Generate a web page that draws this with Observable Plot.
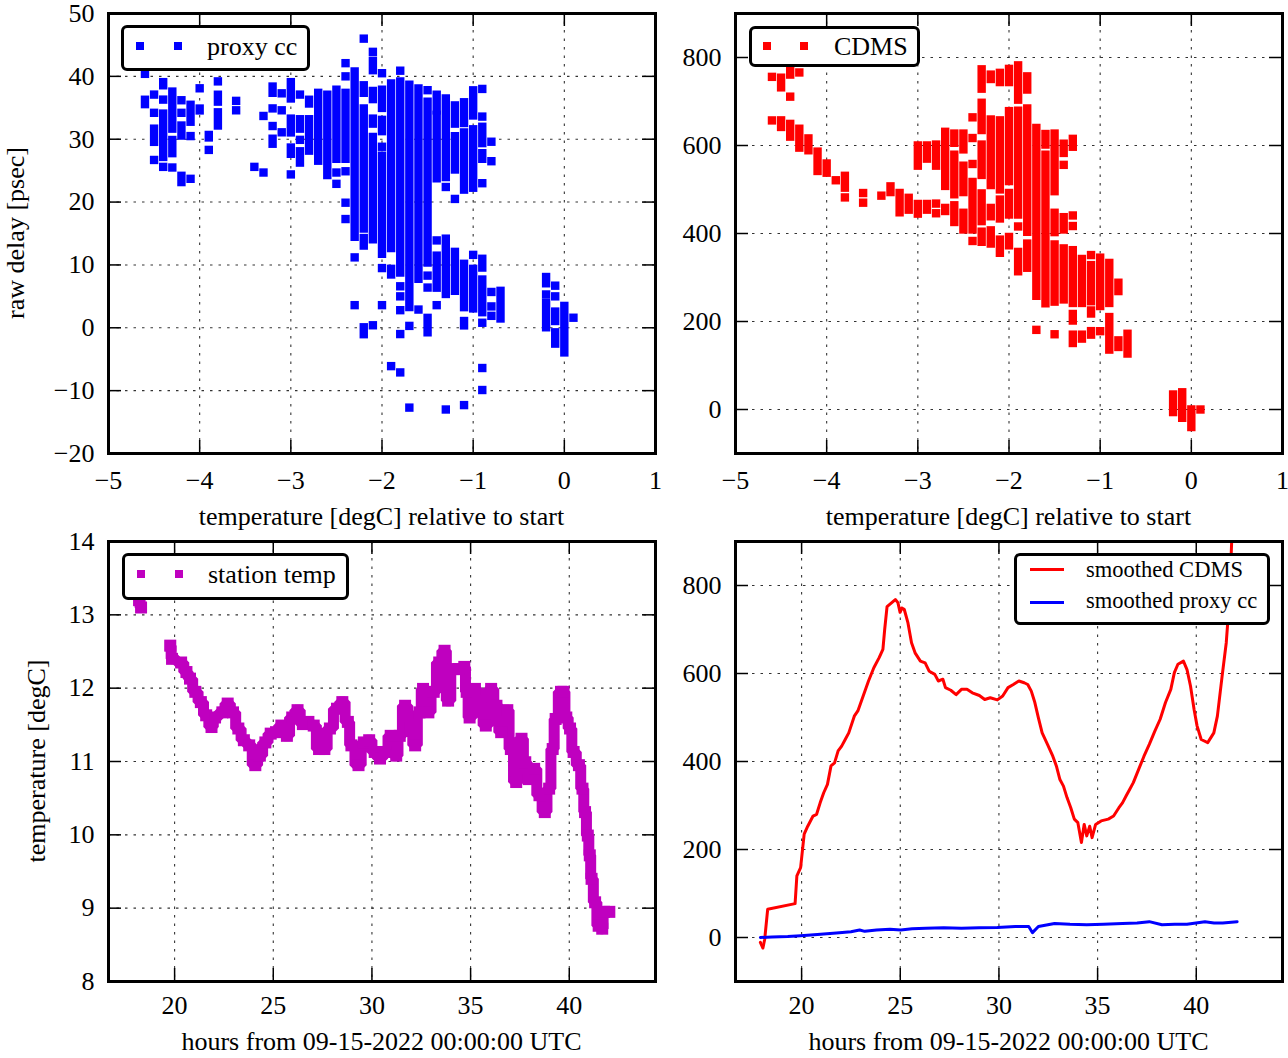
<!DOCTYPE html>
<html><head><meta charset="utf-8">
<script src="https://cdn.jsdelivr.net/npm/d3@7"></script>
<script src="https://cdn.jsdelivr.net/npm/@observablehq/plot@0.6"></script>
<style>
body{margin:0;background:#fff;}
#page{position:relative;width:1288px;height:1058px;overflow:hidden;font-family:"Liberation Serif","Times New Roman",serif;color:#000;background:#fff;}
.panel{position:absolute;}
.panel svg{overflow:visible;background:transparent;}
.legend{position:absolute;background:#fff;border:3px solid #000;border-radius:6px;box-sizing:border-box;}
.mk{position:absolute;width:8px;height:8px;}
.ln{position:absolute;height:3px;}
.lab{position:absolute;font-size:26px;white-space:nowrap;line-height:26px;}
</style></head>
<body><div id="page"></div>
<script>
// ---------- tick values ----------
const tempTicks = [-5, -4, -3, -2, -1, 0, 1];
const delayTicks = [-20, -10, 0, 10, 20, 30, 40, 50];
const cdmsTicks = [0, 200, 400, 600, 800];
const hourTicks = [20, 25, 30, 35, 40];
const stationTicks = [8, 9, 10, 11, 12, 13, 14];

// ---------- proxy cc scatter: stacked runs [temp, low, high] and single points [temp, delay] ----------
const proxyRuns = [
  [-4.6, 35.5, 36.2], [-4.5, 29.5, 31.6], [-4.4, 38.5, 39.0], [-4.4, 27.1, 34.0],
  [-4.3, 31.6, 37.5], [-4.3, 27.7, 29.8], [-4.2, 30.5, 32.1], [-4.2, 23.1, 24.1],
  [-4.1, 32.7, 35.4], [-4.0, 34.5, 34.8], [-3.9, 30.2, 30.6], [-3.8, 35.9, 37.0], [-3.8, 32.1, 34.2],
  [-3.2, 37.3, 38.3], [-3.2, 29.2, 30.0], [-3.0, 36.4, 39.0], [-3.0, 31.0, 33.2], [-3.0, 27.6, 28.6],
  [-2.9, 31.6, 33.1], [-2.9, 26.2, 28.0], [-2.8, 35.6, 36.2], [-2.8, 28.1, 33.1],
  [-2.7, 26.5, 37.3], [-2.6, 24.2, 37.0], [-2.5, 26.8, 37.8], [-2.4, 26.8, 37.3],
  [-2.3, 14.4, 40.7], [-2.2, 37.3, 38.5], [-2.2, 15.7, 34.8], [-2.2, 13.0, 14.2], [-2.2, -1.1, 0.0],
  [-2.1, 40.9, 42.4], [-2.1, 36.3, 37.6], [-2.1, 32.4, 33.2], [-2.1, 14.0, 30.3],
  [-2.0, 34.9, 37.8], [-2.0, 31.2, 33.0], [-2.0, 11.7, 27.3],
  [-1.9, 12.6, 38.8], [-1.9, 8.4, 9.3], [-1.8, 8.7, 39.1], [-1.7, 3.2, 38.6], [-1.6, 7.7, 38.0],
  [-1.5, 10.3, 35.9], [-1.5, -0.8, 1.5], [-1.4, 34.5, 37.0], [-1.4, 23.7, 33.8], [-1.4, 6.3, 11.4],
  [-1.3, 23.9, 36.4], [-1.3, 5.3, 14.1], [-1.2, 32.4, 35.3], [-1.2, 25.1, 30.4], [-1.2, 5.8, 12.0],
  [-1.1, 32.5, 35.8], [-1.1, 21.9, 31.0], [-1.1, 3.2, 10.1], [-1.1, 0.3, 1.0],
  [-1.0, 33.7, 37.7], [-1.0, 22.2, 31.5], [-1.0, 3.0, 9.3],
  [-0.9, 29.3, 31.9], [-0.9, 26.8, 27.7], [-0.9, 9.5, 10.9], [-0.9, 2.4, 7.6],
  [-0.7, 1.4, 5.8], [-0.2, 7.0, 8.0], [-0.2, 0.0, 3.9], [-0.1, 1.0, 2.5], [-0.1, -2.6, -0.8], [0.0, -4.0, 3.4]
];
const proxySingles = [
  [-4.6, 40.4], [-4.5, 37.1], [-4.5, 34.2], [-4.5, 26.7], [-4.4, 36.3], [-4.4, 25.6], [-4.3, 25.5],
  [-4.2, 36.2], [-4.2, 34.2], [-4.1, 30.5], [-4.1, 23.7], [-4.0, 38.1], [-3.9, 28.3], [-3.8, 39.2],
  [-3.6, 36.1], [-3.6, 34.6], [-3.4, 25.6], [-3.3, 33.7], [-3.3, 24.7], [-3.2, 34.9], [-3.2, 32.1],
  [-3.1, 37.3], [-3.1, 34.6], [-3.1, 31.1], [-3.0, 24.4], [-2.9, 37.1], [-2.9, 29.9],
  [-2.5, 24.7], [-2.5, 22.9], [-2.4, 42.1], [-2.4, 40.0], [-2.4, 24.9], [-2.4, 19.9], [-2.4, 17.3],
  [-2.3, 11.2], [-2.3, 3.6], [-2.2, 46.0], [-2.1, 43.9], [-2.1, 0.4], [-2.0, 40.5], [-2.0, 28.8],
  [-2.0, 9.5], [-2.0, 3.6], [-1.9, -6.1], [-1.8, 40.9], [-1.8, 6.6], [-1.8, 5.0], [-1.8, 2.8],
  [-1.8, -1.0], [-1.8, -7.1], [-1.7, 0.3], [-1.7, -12.7], [-1.6, 2.9], [-1.5, 37.8], [-1.5, 8.3],
  [-1.5, 6.4], [-1.4, 13.9], [-1.4, 3.6], [-1.3, 22.4], [-1.3, -13.0], [-1.2, 20.5], [-1.1, -12.3],
  [-1.0, 11.6], [-0.9, 38.0], [-0.9, 33.6], [-0.9, 23.0], [-0.9, 0.8], [-0.9, -6.4], [-0.9, -9.9],
  [-0.8, 29.6], [-0.8, 26.5], [-0.8, 5.7], [-0.8, 3.4], [-0.8, 1.9], [-0.2, 5.3], [-0.1, 6.7],
  [-0.1, 5.0], [0.1, 1.6]
];

// ---------- CDMS scatter ----------
const cdmsRuns = [
  [-4.5, 731, 753], [-4.5, 641, 656], [-4.4, 760, 768], [-4.4, 619, 648], [-4.3, 594, 637],
  [-4.2, 588, 615], [-4.1, 541, 585], [-4.0, 537, 558], [-3.8, 503, 530], [-3.3, 493, 506],
  [-3.2, 447, 491], [-3.1, 453, 480], [-3.0, 553, 599], [-3.0, 444, 466], [-2.9, 569, 599],
  [-2.9, 453, 466], [-2.8, 553, 601], [-2.7, 507, 630], [-2.7, 450, 457], [-2.6, 605, 626],
  [-2.6, 488, 578], [-2.6, 425, 463], [-2.5, 590, 626], [-2.5, 493, 553], [-2.5, 408, 446],
  [-2.4, 408, 516], [-2.3, 728, 772], [-2.3, 634, 696], [-2.3, 532, 601], [-2.3, 427, 490],
  [-2.3, 380, 403], [-2.2, 750, 760], [-2.2, 509, 658], [-2.2, 438, 457], [-2.2, 376, 406],
  [-2.1, 743, 764], [-2.1, 499, 656], [-2.1, 433, 476], [-2.1, 355, 385],
  [-2.0, 743, 773], [-2.0, 518, 677], [-2.0, 442, 491], [-2.0, 372, 391],
  [-1.9, 703, 781], [-1.9, 442, 678], [-1.9, 313, 357], [-1.8, 726, 756], [-1.8, 403, 683],
  [-1.8, 321, 376], [-1.7, 257, 639], [-1.6, 601, 625], [-1.6, 240, 578], [-1.5, 495, 626],
  [-1.5, 402, 446], [-1.5, 244, 374], [-1.4, 582, 603], [-1.4, 408, 436], [-1.4, 249, 365],
  [-1.3, 596, 614], [-1.3, 241, 361], [-1.3, 201, 216], [-1.3, 150, 169], [-1.2, 241, 341],
  [-1.2, 160, 169], [-1.1, 245, 327], [-1.1, 217, 224], [-1.1, 169, 177], [-1.0, 234, 344],
  [-0.9, 241, 332], [-0.9, 135, 209], [-0.8, 268, 287], [-0.8, 141, 156], [-0.7, 126, 171],
  [-0.2, -7, 33], [-0.1, -20, 38], [0.0, -41, -1]
];
const cdmsSingles = [
  [-4.6, 756], [-4.6, 657], [-4.4, 711], [-4.3, 766], [-3.9, 521], [-3.8, 482], [-3.6, 492],
  [-3.6, 470], [-3.4, 486], [-2.8, 468], [-2.8, 446], [-2.4, 664], [-2.4, 617], [-2.4, 558],
  [-2.4, 383], [-1.9, 416], [-1.7, 181], [-1.5, 171], [-1.4, 556], [-1.3, 441], [-1.3, 417],
  [-1.1, 351], [-1.0, 178], [0.1, 0]
];

// ---------- station temperature vs hours ----------
const stationHours = [18.2, 18.3, null, 19.78, 19.87, 20.33, 20.6, 20.78, 21.05, 21.33, 21.6, 21.87, 22.05,
  22.42, 22.69, 22.96, 23.23, 23.51, 23.78, 24.09, 24.32, 24.6, 24.87, 25.14, 25.41, 25.69, 25.96,
  26.23, 26.5, 26.78, 27.05, 27.32, 27.59, 27.87, 28.23, 28.5, 28.78, 28.96, 29.32, 29.59, 29.86,
  30.14, 30.41, 30.68, 30.95, 31.23, 31.41, 31.68, 31.95, 32.19, 32.41, 32.59, 32.86, 33.13, 33.41,
  33.68, 33.86, 34.13, 34.41, 34.68, 34.8, 34.95, 35.22, 35.5, 35.77, 36.04, 36.31, 36.55, 36.86,
  37.04, 37.31, 37.58, 37.77, 37.95, 38.22, 38.49, 38.76, 38.98, 39.16, 39.31, 39.58, 39.71, 39.85,
  40.04, 40.22, 40.49, 40.67, 40.8, 40.94, 41.04, 41.13, 41.31, 41.49, 41.67, 41.76, 42.03];
const stationTemp = [13.2, 13.1, null, 12.58, 12.4, 12.35, 12.22, 12.13, 11.95, 11.81, 11.63, 11.47, 11.6,
  11.67, 11.79, 11.67, 11.45, 11.29, 11.22, 10.95, 11.08, 11.26, 11.38, 11.4, 11.49, 11.35, 11.6,
  11.7, 11.51, 11.54, 11.49, 11.17, 11.17, 11.45, 11.72, 11.81, 11.54, 11.22, 10.95, 11.26, 11.29,
  11.13, 11.04, 11.13, 11.35, 11.08, 11.35, 11.76, 11.45, 11.22, 11.67, 11.99, 11.67, 11.95, 12.35,
  12.51, 11.83, 12.26, 12.26, 12.29, 11.95, 11.6, 11.99, 11.72, 11.49, 11.99, 11.76, 11.4, 11.7,
  11.17, 10.72, 11.31, 10.99, 10.76, 10.9, 10.54, 10.31, 10.63, 11.17, 11.58, 11.95, 11.95, 11.6,
  11.45, 11.13, 10.95, 10.63, 10.31, 9.99, 9.72, 9.4, 9.08, 8.76, 8.72, 8.95, 8.95];

// ---------- smoothed series vs hours ----------
const smoothCdmsHours = [17.91, 18.04, 18.13, 18.28, 19.67, 19.76, 19.95, 20.13, 20.31, 20.58, 20.76, 20.94,
  21.12, 21.31, 21.49, 21.67, 21.85, 22.03, 22.21, 22.39, 22.67, 22.85, 23.12, 23.39, 23.66, 23.93,
  24.12, 24.21, 24.33, 24.57, 24.75, 24.88, 24.99, 25.08, 25.2, 25.39, 25.57, 25.75, 26.02, 26.26,
  26.47, 26.75, 26.93, 27.16, 27.29, 27.56, 27.83, 28.1, 28.38, 28.65, 29.01, 29.28, 29.56, 29.92,
  30.19, 30.46, 30.73, 31.01, 31.28, 31.46, 31.64, 31.82, 32.0, 32.19, 32.46, 32.73, 32.91, 33.09,
  33.27, 33.45, 33.64, 33.82, 34.0, 34.18, 34.32, 34.45, 34.6, 34.72, 34.9, 35.18, 35.54, 35.81,
  36.08, 36.26, 36.45, 36.63, 36.81, 37.08, 37.35, 37.62, 37.9, 38.17, 38.44, 38.71, 38.89, 39.07,
  39.35, 39.53, 39.71, 39.89, 40.04, 40.25, 40.58, 40.89, 41.07, 41.31, 41.52, 41.67, 41.74, 41.82];
const smoothCdms = [-11, -24, -4, 64, 77, 140, 159, 235, 253, 276, 280, 306, 329, 348, 390, 397, 424, 435,
  450, 465, 503, 515, 549, 583, 613, 636, 655, 700, 752, 761, 768, 761, 739, 749, 746, 715, 670, 647,
  628, 624, 605, 598, 583, 587, 568, 562, 552, 564, 564, 556, 550, 541, 545, 540, 549, 568, 575, 583,
  579, 575, 560, 534, 499, 465, 439, 412, 390, 359, 344, 318, 295, 269, 261, 216, 257, 231, 253, 227,
  257, 265, 269, 276, 295, 306, 322, 337, 352, 382, 412, 439, 469, 496, 534, 564, 602, 621, 628, 609,
  571, 518, 481, 450, 443, 465, 503, 594, 670, 761, 836, 930];
const smoothProxyHours = [17.91, 18.5, 19.3, 19.95, 20.8, 21.76, 22.5, 22.94, 23.2, 23.8, 24.48, 25.02, 25.6,
  26.29, 27.2, 28.1, 29.0, 29.92, 30.83, 31.51, 31.7, 32.0, 32.82, 33.6, 34.45, 35.3, 36.26, 37.0,
  37.62, 38.26, 38.9, 39.53, 40.44, 40.9, 41.34, 42.07];
const smoothProxy = [0, 1, 2, 4, 7, 10, 13, 17, 14, 17, 19, 17, 20, 21, 22, 21, 22, 23, 25, 25, 11, 25, 32,
  30, 29, 30, 32, 33, 36, 29, 30, 30, 36, 33, 33, 36];

// ---------- colours ----------
const BLUE = "#0000ff", RED = "#ff0000", MAGENTA = "#bf00bf";

const fmt = d => (d < 0 ? "\u2212" : "") + Math.abs(d);
const page = document.getElementById("page");

function makePanel(o) {
  const W = o.fr - o.fl, H = o.fb - o.ft, tl = 13;
  const grid = {stroke: "#000", strokeOpacity: 0.8, strokeWidth: 1.1, strokeDasharray: "2.5,6"};
  const tick = {stroke: "#000", strokeWidth: 1.5};
  const svg = Plot.plot({
    width: o.w, height: o.h,
    marginLeft: o.fl - o.left, marginRight: o.left + o.w - o.fr,
    marginTop: o.ft - o.top, marginBottom: o.top + o.h - o.fb,
    style: {fontFamily: "'Liberation Serif', 'Times New Roman', serif", fontSize: "26px", background: "transparent", overflow: "visible", color: "#000"},
    x: {domain: o.xd, ticks: o.xt, tickSize: 0, tickPadding: o.xpad, tickFormat: fmt, label: null},
    y: {domain: o.yd, ticks: o.yt, tickSize: 0, tickPadding: 14, tickFormat: fmt, label: null},
    marks: [
      Plot.ruleX(o.xt, {x: d => d, ...grid}),
      Plot.ruleY(o.yt, {y: d => d, ...grid}),
      ...o.marks,
      Plot.tickX(o.xt, {x: d => d, insetTop: H - tl, ...tick}),
      Plot.tickX(o.xt, {x: d => d, insetBottom: H - tl, ...tick}),
      Plot.tickY(o.yt, {y: d => d, insetRight: W - tl, ...tick}),
      Plot.tickY(o.yt, {y: d => d, insetLeft: W - tl, ...tick}),
      Plot.frame({stroke: "#000", strokeWidth: 3})
    ]
  });
  const div = document.createElement("div");
  div.className = "panel";
  div.style.left = o.left + "px"; div.style.top = o.top + "px";
  div.style.width = o.w + "px"; div.style.height = o.h + "px";
  div.appendChild(svg);
  page.appendChild(div);
}

const SQ = 8.4; // marker side in px
function scatterMarks(runs, singles, color) {
  return [
    Plot.ruleX(runs, {x: d => d[0], y1: d => d[1], y2: d => d[2], stroke: color, strokeWidth: SQ, strokeLinecap: "square"}),
    Plot.dot(singles, {x: d => d[0], y: d => d[1], symbol: "square", r: SQ / Math.sqrt(Math.PI), fill: color, stroke: "none"})
  ];
}

const station = stationHours.map((h, i) => ({h, t: stationTemp[i]}));
const cdmsSmooth = smoothCdmsHours.map((h, i) => ({h, v: smoothCdms[i]}));
const proxySmooth = smoothProxyHours.map((h, i) => ({h, v: smoothProxy[i]}));

makePanel({left: 0, top: 0, w: 670, h: 530, fl: 108, ft: 13, fr: 655, fb: 453,
  xd: [-5, 1], yd: [-20, 50], xt: tempTicks, yt: delayTicks, xpad: 17,
  marks: scatterMarks(proxyRuns, proxySingles, BLUE)});
makePanel({left: 670, top: 0, w: 618, h: 530, fl: 735, ft: 13, fr: 1282, fb: 453,
  xd: [-5, 1], yd: [-100, 900], xt: tempTicks, yt: cdmsTicks, xpad: 17,
  marks: scatterMarks(cdmsRuns, cdmsSingles, RED)});
makePanel({left: 0, top: 530, w: 670, h: 528, fl: 108, ft: 541, fr: 655, fb: 981,
  xd: [16.65, 44.37], yd: [8, 14], xt: hourTicks, yt: stationTicks, xpad: 14,
  marks: [
    Plot.line(station, {x: "h", y: "t", curve: "step", stroke: MAGENTA, strokeWidth: 11, strokeLinejoin: "miter", strokeLinecap: "square"}),
    Plot.dot(station, {x: "h", y: "t", symbol: "square", r: 12 / Math.sqrt(Math.PI), fill: MAGENTA, stroke: "none"})
  ]});
makePanel({left: 670, top: 530, w: 618, h: 528, fl: 735, ft: 541, fr: 1282, fb: 981,
  xd: [16.65, 44.37], yd: [-100, 900], xt: hourTicks, yt: cdmsTicks, xpad: 14,
  marks: [
    Plot.line(cdmsSmooth, {x: "h", y: "v", stroke: RED, strokeWidth: 3, clip: true}),
    Plot.line(proxySmooth, {x: "h", y: "v", stroke: BLUE, strokeWidth: 3, clip: true})
  ]});

// ---------- legends and axis titles (HTML text) ----------
function el(cls, css, text) {
  const d = document.createElement("div");
  d.className = cls;
  Object.assign(d.style, css);
  if (text) d.textContent = text;
  page.appendChild(d);
  return d;
}
// panel 1 legend
el("legend", {left: "121px", top: "25px", width: "189px", height: "46px"});
el("mk", {left: "136px", top: "42px", background: BLUE});
el("mk", {left: "174px", top: "42px", background: BLUE});
el("lab", {left: "207px", top: "34px"}, "proxy cc");
// panel 2 legend
el("legend", {left: "749px", top: "26px", width: "171px", height: "41px"});
el("mk", {left: "763px", top: "42px", background: RED});
el("mk", {left: "800px", top: "42px", background: RED});
el("lab", {left: "834px", top: "34px"}, "CDMS");
// panel 3 legend
el("legend", {left: "122px", top: "553px", width: "227px", height: "47px"});
el("mk", {left: "137px", top: "570px", background: MAGENTA});
el("mk", {left: "175px", top: "570px", background: MAGENTA});
el("lab", {left: "208px", top: "562px"}, "station temp");
// panel 4 legend
el("legend", {left: "1014px", top: "553px", width: "256px", height: "72px"});
el("ln", {left: "1030px", top: "567.5px", width: "34px", background: RED});
el("ln", {left: "1030px", top: "600.5px", width: "34px", background: BLUE});
el("lab", {left: "1086px", top: "559px", fontSize: "22.5px", lineHeight: "22.5px"}, "smoothed CDMS");
el("lab", {left: "1086px", top: "590px", fontSize: "22.5px", lineHeight: "22.5px"}, "smoothed proxy cc");

// axis titles
el("lab", {left: "16px", top: "233px", transform: "translate(-50%,-50%) rotate(-90deg)"}, "raw delay [psec]");
el("lab", {left: "37px", top: "761px", transform: "translate(-50%,-50%) rotate(-90deg)"}, "temperature [degC]");
el("lab", {left: "381.5px", top: "504px", transform: "translateX(-50%)"}, "temperature [degC] relative to start");
el("lab", {left: "1008.5px", top: "504px", transform: "translateX(-50%)"}, "temperature [degC] relative to start");
el("lab", {left: "381.5px", top: "1029px", transform: "translateX(-50%)"}, "hours from 09-15-2022 00:00:00 UTC");
el("lab", {left: "1008.5px", top: "1029px", transform: "translateX(-50%)"}, "hours from 09-15-2022 00:00:00 UTC");
</script></body></html>
